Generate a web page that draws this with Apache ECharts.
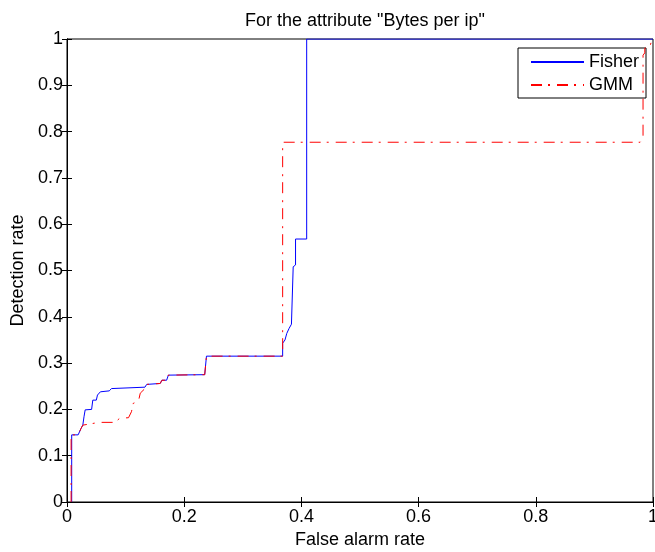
<!DOCTYPE html>
<html>
<head>
<meta charset="utf-8">
<script src="https://cdn.jsdelivr.net/npm/echarts@6/dist/echarts.min.js"></script>
<style>
html,body{margin:0;padding:0;background:#fff;}
#chart{width:655px;height:552px;}
</style>
</head>
<body>
<div id="chart"></div>
<script>
// Fisher ROC curve (step points)
var fisherX = [0.008, 0.008, 0.019, 0.022, 0.024, 0.027, 0.029, 0.031, 0.042, 0.044, 0.050, 0.052, 0.055, 0.057, 0.072, 0.076, 0.133, 0.136, 0.159, 0.162, 0.170, 0.173, 0.235, 0.238, 0.368, 0.368, 0.372, 0.375, 0.379, 0.383, 0.386, 0.386, 0.390, 0.390, 0.409, 0.409, 1.0];
var fisherY = [0, 0.145, 0.145, 0.148, 0.159, 0.166, 0.184, 0.199, 0.200, 0.220, 0.220, 0.231, 0.231, 0.238, 0.240, 0.245, 0.248, 0.254, 0.256, 0.263, 0.263, 0.274, 0.275, 0.315, 0.315, 0.343, 0.350, 0.364, 0.375, 0.384, 0.386, 0.508, 0.512, 0.568, 0.568, 1.0, 1.0];
// GMM ROC curve (step points)
var gmmX = [0.007, 0.007, 0.019, 0.022, 0.024, 0.027, 0.029, 0.055, 0.082, 0.090, 0.105, 0.110, 0.113, 0.122, 0.125, 0.133, 0.136, 0.159, 0.162, 0.170, 0.173, 0.235, 0.238, 0.368, 0.368, 0.978, 0.983, 0.983, 0.986, 0.986, 0.995, 0.998, 1.0];
var gmmY = [0, 0.145, 0.145, 0.148, 0.159, 0.166, 0.170, 0.172, 0.172, 0.181, 0.182, 0.195, 0.213, 0.218, 0.235, 0.245, 0.254, 0.256, 0.263, 0.263, 0.274, 0.275, 0.315, 0.315, 0.777, 0.777, 0.785, 0.965, 0.970, 0.980, 0.985, 0.998, 1.0];

var seriesNames = ['Fisher', 'GMM'];
var titleText = 'For the attribute "Bytes per ip"';
var xName = 'False alarm rate';
var yName = 'Detection rate';

function zip(xs, ys) {
  var out = [];
  for (var i = 0; i < xs.length; i++) out.push([xs[i], ys[i]]);
  return out;
}

var FONT = '"Liberation Sans", Arial, sans-serif';
var chart = echarts.init(document.getElementById('chart'), null, {renderer: 'canvas'});

var tickStyle = {show: true, inside: true, length: 5, lineStyle: {color: '#000', width: 1}};

chart.setOption({
  animation: false,
  backgroundColor: '#fff',
  title: {
    text: titleText,
    left: 360, textAlign: 'center',
    top: 7,
    textStyle: {fontFamily: FONT, fontSize: 18, fontWeight: 'normal', color: '#000'}
  },
  grid: {
    left: 67, right: 2, top: 39, bottom: 50,
    containLabel: false, outerBoundsMode: 'none',
    show: true, borderColor: '#000', borderWidth: 1, backgroundColor: '#fff'
  },
  legend: {
    data: seriesNames,
    orient: 'vertical',
    left: 518, top: 48,
    padding: [5, 7, 4, 12],
    itemWidth: 53, itemHeight: 18, itemGap: 5,
    backgroundColor: '#fff',
    borderColor: '#000', borderWidth: 1,
    itemStyle: {opacity: 0},
    textStyle: {fontFamily: FONT, fontSize: 18, color: '#000', lineHeight: 18, padding: [0, 0, 0, 0]}
  },
  xAxis: [{
    type: 'value', min: 0, max: 1, interval: 0.2,
    name: xName, nameLocation: 'middle', nameGap: 28,
    nameTextStyle: {fontFamily: FONT, fontSize: 18, color: '#000'},
    axisLine: {show: true, lineStyle: {color: '#000', width: 1}},
    axisTick: tickStyle,
    axisLabel: {fontFamily: FONT, fontSize: 18, color: '#000', margin: 6},
    splitLine: {show: false}
  }, {
    type: 'value', min: 0, max: 1, interval: 0.2, position: 'top',
    axisLine: {show: true, lineStyle: {color: '#000', width: 1}},
    axisTick: tickStyle,
    axisLabel: {show: false},
    splitLine: {show: false}
  }],
  yAxis: [{
    type: 'value', min: 0, max: 1, interval: 0.1,
    name: yName, nameLocation: 'middle', nameGap: 39,
    nameTextStyle: {fontFamily: FONT, fontSize: 18, color: '#000'},
    axisLine: {show: true, lineStyle: {color: '#000', width: 1}},
    axisTick: tickStyle,
    axisLabel: {fontFamily: FONT, fontSize: 18, color: '#000', margin: 4},
    splitLine: {show: false}
  }, {
    type: 'value', min: 0, max: 1, interval: 0.1, position: 'right',
    axisLine: {show: true, lineStyle: {color: '#000', width: 1}},
    axisTick: tickStyle,
    axisLabel: {show: false},
    splitLine: {show: false}
  }],
  series: [{
    name: seriesNames[0], type: 'line',
    data: zip(fisherX, fisherY),
    symbol: 'none', showSymbol: false,
    lineStyle: {color: '#0000ff', width: 1},
    itemStyle: {color: '#0000ff'},
    z: 3
  }, {
    name: seriesNames[1], type: 'line',
    data: zip(gmmX, gmmY),
    symbol: 'none', showSymbol: false,
    lineStyle: {color: '#ff0000', width: 1, type: [11, 6, 2, 7]},
    itemStyle: {color: '#ff0000'},
    z: 4
  }]
});
</script>
</body>
</html>
